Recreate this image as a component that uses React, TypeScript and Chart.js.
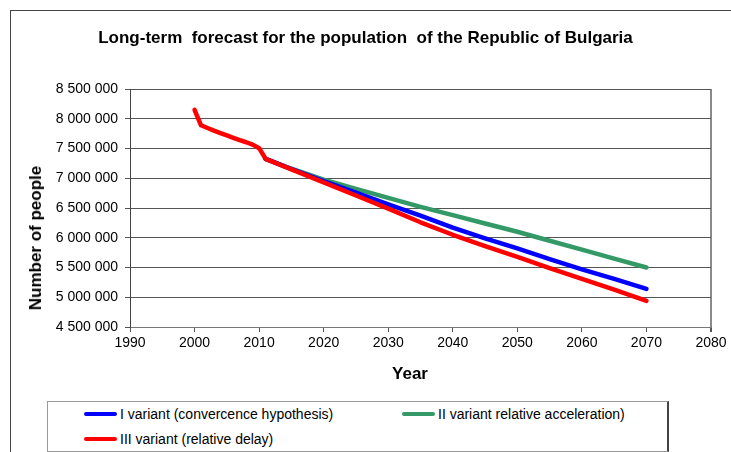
import React, { useEffect, useRef } from "react";
import { Chart, registerables } from "chart.js";

Chart.register(...registerables);

const chartTitle = "Long-term  forecast for the population  of the Republic of Bulgaria";
const xAxisTitle = "Year";
const yAxisTitle = "Number of people";

const histYears = [2000, 2001, 2002, 2003, 2004, 2005, 2006, 2007, 2008, 2009, 2010, 2011];
const histValues = [8150000, 7890000, 7845000, 7800000, 7760000, 7720000, 7680000, 7640000, 7605000, 7565000, 7505000, 7327000];

const forecastYears = [2011, 2015, 2020, 2025, 2030, 2035, 2040, 2045, 2050, 2055, 2060, 2065, 2070];
const variantI = [7327000, 7155000, 6950000, 6760000, 6560000, 6370000, 6170000, 5990000, 5820000, 5640000, 5470000, 5310000, 5140000];
const variantII = [7327000, 7160000, 6975000, 6820000, 6670000, 6520000, 6380000, 6240000, 6100000, 5950000, 5800000, 5650000, 5500000];
const variantIII = [7327000, 7150000, 6930000, 6710000, 6490000, 6260000, 6050000, 5860000, 5680000, 5490000, 5310000, 5130000, 4940000];

const seriesLabels = [
  "I variant (convercence hypothesis)",
  "II variant relative acceleration)",
  "III variant (relative delay)",
];
const seriesColors = ["#0000FF", "#339966", "#FF0000"];

const xMin = 1990;
const xMax = 2080;
const xStep = 10;
const yMin = 4500000;
const yMax = 8500000;
const yStep = 500000;

const FONT = "'Liberation Sans', Arial, sans-serif";

function fmt(v: number): string {
  return String(Math.round(v)).replace(/\B(?=(\d{3})+(?!\d))/g, " ");
}

function toPoints(xs: number[], ys: number[]) {
  return xs.map((x, i) => ({ x, y: ys[i] }));
}

export default function App() {
  const ref = useRef<HTMLCanvasElement | null>(null);

  useEffect(() => {
    if (!ref.current) return;
    const redPoints = toPoints(histYears, histValues).concat(
      toPoints(forecastYears.slice(1), variantIII.slice(1))
    );
    const common = {
      borderWidth: 4.5,
      pointRadius: 0,
      fill: false,
      borderCapStyle: "round" as const,
      borderJoinStyle: "round" as const,
      tension: 0,
    };
    const chart = new Chart(ref.current, {
      type: "line",
      data: {
        datasets: [
          { ...common, label: seriesLabels[0], data: toPoints(forecastYears, variantI), borderColor: seriesColors[0], order: 1 },
          { ...common, label: seriesLabels[1], data: toPoints(forecastYears, variantII), borderColor: seriesColors[1], order: 2 },
          { ...common, label: seriesLabels[2], data: redPoints, borderColor: seriesColors[2], order: 0 },
        ],
      },
      options: {
        animation: false,
        responsive: false,
        devicePixelRatio: 1,
        layout: { padding: { left: 0, right: 20, top: 89, bottom: 0 } },
        plugins: {
          legend: { display: false },
          title: { display: false },
          tooltip: { enabled: false },
        },
        scales: {
          x: {
            type: "linear",
            min: xMin,
            max: xMax,
            afterFit: (s: any) => {
              s.height = 125;
            },
            ticks: {
              stepSize: xStep,
              padding: 3,
              color: "#000",
              font: { family: FONT, size: 14 },
              callback: (v: any) => String(v),
              maxRotation: 0,
            },
            grid: {
              drawOnChartArea: true,
              drawTicks: true,
              tickLength: 5,
              tickColor: "#555",
              color: (ctx: any) => (ctx.tick && ctx.tick.value === xMax ? "#8a8a8a" : "rgba(0,0,0,0)"),
              lineWidth: (ctx: any) => (ctx.tick && ctx.tick.value === xMax ? 2 : 1),
            },
            border: { display: true, color: "#777", width: 1 },
          },
          y: {
            type: "linear",
            min: yMin,
            max: yMax,
            afterFit: (s: any) => {
              s.width = 130;
            },
            ticks: {
              stepSize: yStep,
              padding: 7,
              color: "#000",
              font: { family: FONT, size: 14 },
              callback: (v: any) => fmt(Number(v)),
            },
            grid: {
              drawOnChartArea: true,
              drawTicks: true,
              tickLength: 5,
              tickColor: "#555",
              color: "#555",
              lineWidth: 1,
            },
            border: { display: true, color: "#444", width: 1 },
          },
        },
      },
    });
    return () => chart.destroy();
  }, []);

  return (
    <div
      style={{
        position: "absolute",
        left: 0,
        top: 0,
        width: 731,
        height: 452,
        overflow: "hidden",
        background: "#fff",
        fontFamily: FONT,
      }}
    >
      <div
        style={{
          position: "absolute",
          left: 10,
          top: 10,
          width: 800,
          height: 600,
          borderLeft: "1.5px solid #444",
          borderTop: "1.5px solid #444",
        }}
      />
      <canvas
        ref={ref}
        width={731}
        height={452}
        style={{ position: "absolute", left: 0, top: 0, width: 731, height: 452 }}
      />
      <div
        style={{
          position: "absolute",
          left: 0,
          width: 731,
          top: 28,
          textAlign: "center",
          fontWeight: "bold",
          fontSize: 17,
          lineHeight: "20px",
          color: "#000",
          whiteSpace: "pre",
        }}
      >
        {chartTitle}
      </div>
      <div
        style={{
          position: "absolute",
          left: 36,
          top: 238,
          transform: "translate(-50%, -50%) rotate(-90deg)",
          fontWeight: "bold",
          fontSize: 17,
          lineHeight: "20px",
          whiteSpace: "nowrap",
          color: "#000",
        }}
      >
        {yAxisTitle}
      </div>
      <div
        style={{
          position: "absolute",
          left: 410,
          top: 374,
          transform: "translate(-50%, -50%)",
          fontWeight: "bold",
          fontSize: 17,
          lineHeight: "20px",
          whiteSpace: "nowrap",
          color: "#000",
        }}
      >
        {xAxisTitle}
      </div>
      <div
        style={{
          position: "absolute",
          left: 47,
          top: 401,
          width: 619,
          height: 49,
          borderTop: "1px solid #999",
          borderLeft: "1px solid #999",
          borderBottom: "1px solid #999",
          borderRight: "2px solid #444",
          background: "#fff",
        }}
      >
        {[0, 1, 2].map((i) => {
          const left = i === 1 ? 354 : 36;
          const top = i === 2 ? 37 : 12;
          return (
            <div
              key={i}
              style={{
                position: "absolute",
                left,
                top: top - 9,
                height: 18,
                display: "flex",
                alignItems: "center",
                whiteSpace: "nowrap",
                fontSize: 14,
                color: "#000",
              }}
            >
              <span
                style={{
                  display: "inline-block",
                  width: 33,
                  height: 4,
                  borderRadius: 2,
                  background: seriesColors[i],
                  marginRight: 3,
                }}
              />
              <span>{seriesLabels[i]}</span>
            </div>
          );
        })}
      </div>
    </div>
  );
}
